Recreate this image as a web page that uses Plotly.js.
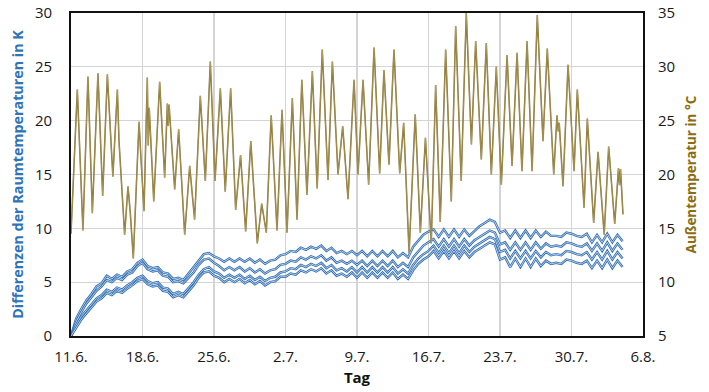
<!DOCTYPE html>
<html>
<head>
<meta charset="utf-8">
<script src="https://cdn.plot.ly/plotly-3.0.1.min.js"></script>
<style>html,body{margin:0;padding:0;background:#fff;}#chart{width:709px;height:392px;}</style>
</head>
<body>
<div id="chart"></div>
<script>
// Outdoor temperature: day offset from 11.6. and value in °C (right axis)
const outDays = [0,0.62,1.17,1.66,2.09,2.64,3.1,3.56,4.1,4.54,4.7,5.25,5.58,5.8,6.1,6.66,6.85,7.15,7.47,7.56,7.66,8.1,8.68,9.17,9.43,9.52,9.6,10.15,10.54,11.13,11.62,12.1,12.66,13.15,13.64,14.1,14.62,15.1,15.63,16.12,16.6,17.1,17.6,18.24,18.67,19.12,19.6,20.17,20.66,21.15,21.67,22.13,22.6,23.1,23.63,24.1,24.6,25.16,25.59,26.14,26.6,27.12,27.71,28.1,28.59,29.14,29.67,30.22,30.64,31.13,31.62,32.18,32.57,33.1,33.7,34.2,34.7,35.27,35.7,36.15,36.68,37.23,37.66,38.2,38.7,39.2,39.62,40.17,40.66,41.15,41.64,42.13,42.69,43.18,43.67,44.15,44.65,45.14,45.65,46.21,46.63,47.26,47.58,47.7,47.8,48.17,48.66,49.25,49.57,50.23,50.55,51.17,51.6,52.2,52.64,53.23,53.6,53.7,53.8,54.04];
const outTemp = [14.5,27.9,14.8,29.1,16.4,29.4,18.0,29.3,19.8,27.9,23.1,14.4,18.9,16.5,12.2,24.9,21.5,16.6,29.0,22.7,26.2,17.5,28.6,19.7,26.6,24.5,26.5,18.6,24.2,14.4,20.8,15.8,27.3,19.4,30.5,19.4,28.0,18.4,28.0,16.7,21.8,14.7,23.1,13.6,17.3,14.6,25.5,14.8,26.0,14.6,27.1,15.8,28.8,18.1,29.6,18.7,31.6,19.5,30.5,20.0,24.5,17.7,28.8,20.0,28.8,19.05,31.8,20.1,29.7,20.9,31.6,20.1,24.8,12.7,25.6,14.6,23.4,13.6,28.3,15.6,31.6,17.5,33.8,19.4,35.0,22.8,32.4,21.4,32.2,20.0,30.0,19.05,31.1,20.8,31.3,20.3,32.4,20.3,34.8,23.1,31.7,20.0,25.5,24.0,24.8,18.9,30.2,20.3,27.9,16.9,25.2,15.5,22.1,14.4,22.6,15.4,20.6,19.0,20.5,16.3];

// Differences of room temperatures (K), one value every half day from 11.6.
const diff1 = [0,1.6,2.5,3.3,3.9,4.6,4.9,5.6,5.3,5.7,5.5,6.0,6.2,6.8,7.1,6.5,6.3,6.4,5.9,5.8,5.3,5.4,5.2,5.8,6.3,7.0,7.6,7.7,7.4,7.2,6.9,7.2,6.9,7.2,6.9,7.2,6.8,7.1,6.7,7.0,7.1,7.5,7.6,7.9,7.8,8.2,8.0,8.3,8.1,8.4,7.9,8.2,7.7,7.9,7.6,7.9,7.5,7.9,7.4,7.9,7.4,7.9,7.4,7.9,7.3,7.7,7.3,8.3,8.9,9.4,9.7,9.9,9.2,9.9,9.2,9.9,9.2,9.9,9.3,9.8,10.2,10.5,10.8,10.6,9.6,9.8,9.1,9.8,9.1,9.8,9.1,9.8,9.2,9.7,9.3,9.3,9.2,9.6,9.5,9.3,9.2,9.5,8.7,9.4,8.7,9.5,8.7,9.4,8.8];
const diff2 = [0,1.3,2.2,3.0,3.6,4.2,4.6,5.2,5.0,5.4,5.2,5.7,5.9,6.5,6.8,6.2,6.0,6.1,5.6,5.5,5.0,5.1,4.9,5.4,5.9,6.6,7.1,7.2,6.8,6.5,6.1,6.4,6.1,6.4,6.0,6.3,5.9,6.2,5.8,6.1,6.2,6.6,6.7,7.0,6.9,7.3,7.1,7.4,7.2,7.5,7.0,7.3,6.8,7.0,6.7,7.0,6.6,7.0,6.5,7.0,6.5,7.0,6.5,7.0,6.4,6.8,6.4,7.3,7.9,8.4,8.7,9.0,8.3,9.0,8.3,9.0,8.3,9.0,8.4,8.9,9.2,9.5,9.8,9.6,8.5,8.7,8.0,8.7,8.0,8.7,8.0,8.7,8.1,8.6,8.3,8.4,8.3,8.7,8.6,8.4,8.3,8.6,7.9,8.6,7.9,8.7,7.9,8.6,8.0];
const diff3 = [0,1.0,1.8,2.4,3.0,3.5,3.8,4.3,4.1,4.5,4.3,4.7,5.0,5.4,5.6,5.1,4.9,5.0,4.5,4.4,3.9,4.1,3.9,4.4,5.0,5.7,6.2,6.4,6.0,5.8,5.4,5.7,5.4,5.7,5.3,5.6,5.2,5.5,5.1,5.4,5.5,5.9,6.0,6.3,6.2,6.6,6.4,6.7,6.5,6.8,6.3,6.6,6.1,6.3,6.0,6.4,5.9,6.4,5.9,6.4,5.9,6.4,5.9,6.4,5.8,6.2,5.8,6.6,7.2,7.6,7.9,8.4,7.7,8.4,7.7,8.4,7.7,8.4,7.8,8.3,8.6,8.9,9.2,9.0,7.8,8.0,7.2,7.9,7.2,7.9,7.2,7.9,7.3,7.8,7.5,7.6,7.5,7.9,7.8,7.6,7.5,7.8,7.1,7.8,7.1,7.9,7.1,7.8,7.2];
const diff4 = [0,0.8,1.5,2.1,2.7,3.2,3.5,4.0,3.8,4.2,4.0,4.4,4.7,5.1,5.3,4.8,4.6,4.7,4.2,4.1,3.6,3.8,3.6,4.1,4.7,5.4,5.9,6.0,5.6,5.4,5.0,5.3,5.0,5.3,4.9,5.2,4.8,5.1,4.7,5.0,5.1,5.5,5.5,5.8,5.7,6.1,5.9,6.2,6.0,6.3,5.8,6.1,5.6,5.8,5.5,5.9,5.4,5.9,5.4,5.9,5.4,5.9,5.4,5.9,5.3,5.7,5.3,6.1,6.7,7.1,7.4,7.9,7.2,7.9,7.2,7.9,7.2,7.9,7.3,7.8,8.1,8.4,8.7,8.5,7.1,7.3,6.4,7.2,6.4,7.2,6.4,7.2,6.5,7.0,6.7,6.8,6.7,7.1,7.0,6.8,6.7,7.0,6.3,7.0,6.3,7.1,6.3,7.0,6.4];

const START = Date.UTC(2018, 5, 11);
const DAY = 86400000;
const toMs = d => START + d * DAY;
const outX = outDays.map(toMs);
const halfX = diff1.map((_, i) => toMs(i * 0.5));

const blue = '#2f6db3';
const traces = [];
[diff1, diff2, diff3, diff4].forEach(s => {
  traces.push({x: halfX, y: s, type: 'scatter', mode: 'lines', yaxis: 'y',
    line: {color: blue, width: 2.4}, hoverinfo: 'skip', showlegend: false});
  traces.push({x: halfX, y: s, type: 'scatter', mode: 'lines', yaxis: 'y',
    line: {color: '#eef4fb', width: 0.7}, hoverinfo: 'skip', showlegend: false});
});
traces.push({x: outX, y: outTemp, type: 'scatter', mode: 'lines', yaxis: 'y2',
  line: {color: '#7a6626', width: 1.5}, hoverinfo: 'skip', showlegend: false});
traces.push({x: outX, y: outTemp, type: 'scatter', mode: 'lines', yaxis: 'y2',
  line: {color: '#cbb878', width: 0.5}, hoverinfo: 'skip', showlegend: false});

const tickFont = {family: 'Open Sans, sans-serif', size: 15, color: '#1a1a1a'};
const layout = {
  width: 709, height: 392,
  margin: {l: 71, r: 66, t: 13, b: 56},
  paper_bgcolor: '#fff', plot_bgcolor: '#fff',
  showlegend: false,
  xaxis: {
    type: 'date',
    range: [toMs(0), toMs(56)],
    tick0: toMs(0), dtick: 7 * DAY,
    tickformat: '%-d.%-m.',
    tickfont: tickFont,
    showgrid: true, gridcolor: '#d4d4d4', gridwidth: 1.2,
    showline: true, linecolor: '#111', linewidth: 1.8, mirror: true,
    ticks: '', ticklabelstandoff: 6,
    zeroline: false,
    title: {text: '<b>Tag</b>', font: {family: 'Open Sans, sans-serif', size: 15, color: '#111'}, standoff: 8}
  },
  yaxis: {
    range: [0, 30], dtick: 5,
    tickfont: tickFont,
    showgrid: true, gridcolor: '#d4d4d4', gridwidth: 1.2,
    showline: true, linecolor: '#111', linewidth: 1.8, mirror: true,
    ticks: '', ticklabelstandoff: 14,
    zeroline: false,
    title: {text: '<b>Differenzen der Raumtemperaturen in K</b>', font: {family: 'Open Sans, sans-serif', size: 14.3, color: '#2f73b8'}, standoff: 8}
  },
  yaxis2: {
    overlaying: 'y', side: 'right',
    range: [5, 35], dtick: 5,
    tickfont: tickFont,
    showgrid: false, zeroline: false,
    ticks: '', ticklabelstandoff: 14,
    title: {text: '<b>Außentemperatur in °C</b>', font: {family: 'Open Sans, sans-serif', size: 13.5, color: '#8a6d12'}, standoff: 12}
  }
};
Plotly.newPlot('chart', traces, layout, {displayModeBar: false, staticPlot: true});
</script>
</body>
</html>
